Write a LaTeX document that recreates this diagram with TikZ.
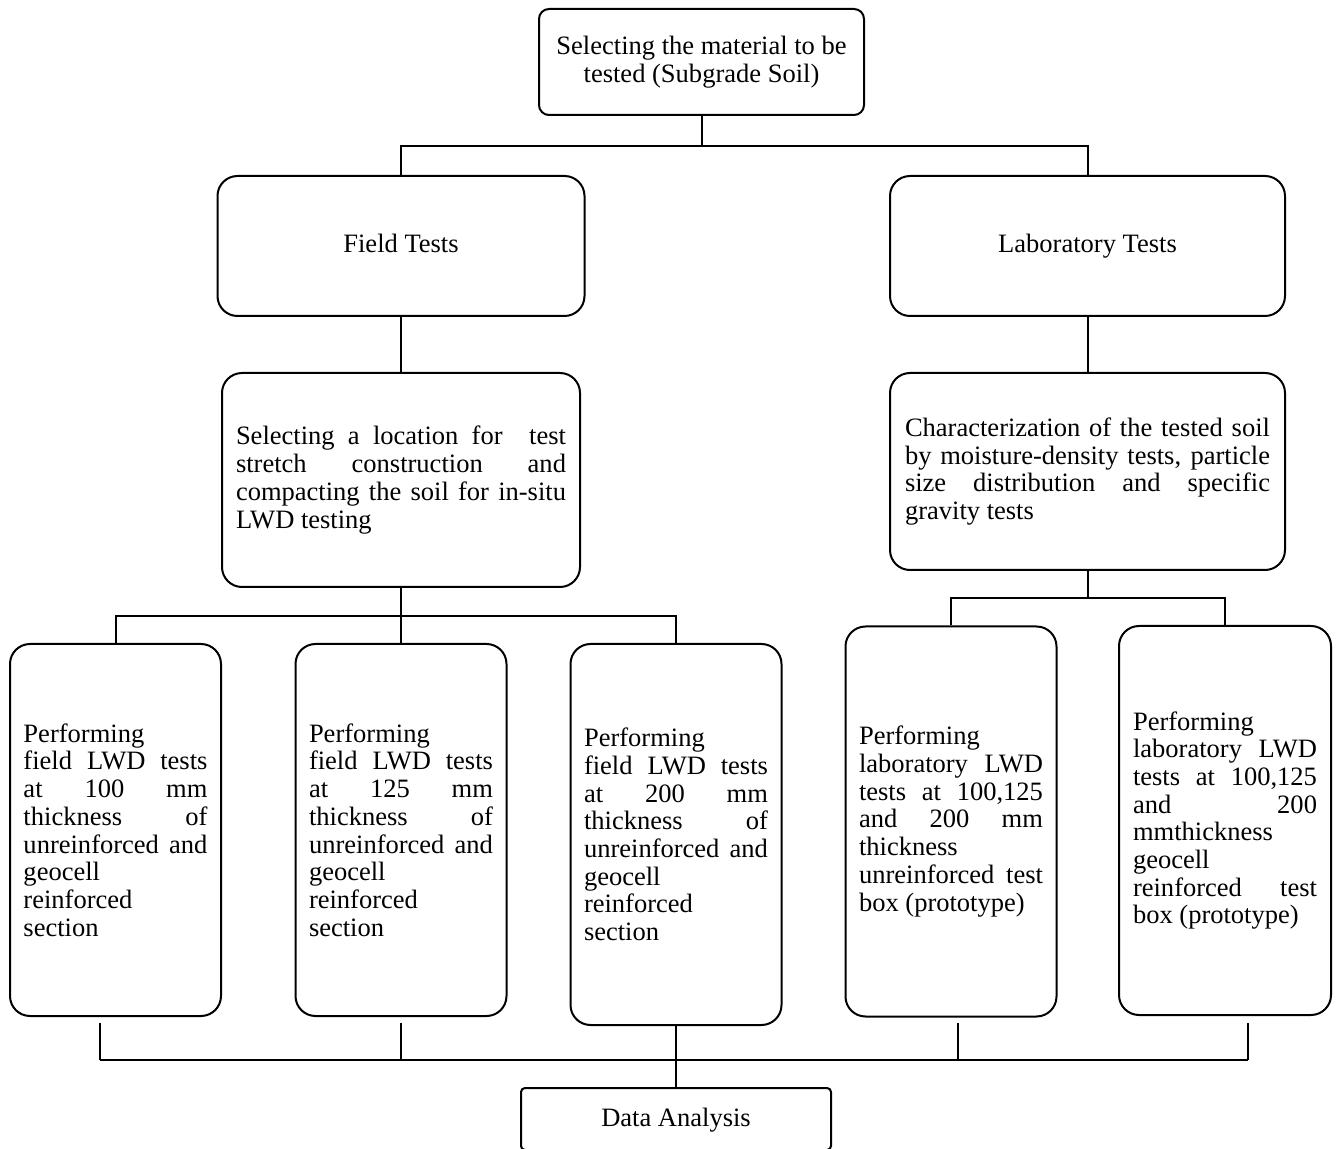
\documentclass[tikz,border=0pt]{standalone}
\usepackage{fontspec}
\setmainfont{Liberation Serif}
\usepackage{tikz}
\usetikzlibrary{calc}

\tikzset{
  stagebox/.style={draw=black, line width=1pt, rounded corners=10pt, inner sep=0pt,
    font=\fontsize{13.26pt}{13.85pt}\selectfont},
  labelbox/.style={stagebox, align=center, text height=9pt, text depth=2pt},
  testbox/.style={stagebox, align=justify, text width=92pt, minimum width=105.5pt},
}

\begin{document}
\begin{tikzpicture}[x=0.5pt, y=-0.5pt, line width=1pt]
    \useasboundingbox (0,0) rectangle (1339,1149);

    \node[stagebox, rounded corners=5pt, align=center, minimum width=162.5pt, minimum height=53pt] (material) at (701.5,62) {Selecting the material to be\\tested (Subgrade Soil)};

    \node[labelbox, minimum width=183.5pt, minimum height=70pt] (field) at (401,246) {Field Tests};

    \node[labelbox, minimum width=197.5pt, minimum height=70pt] (lab) at (1087.5,246) {Laboratory Tests};

    \node[stagebox, align=justify, text width=165pt, minimum width=179pt, minimum height=107pt] (location) at (401,480) {Selecting a location for\ \ test\linebreak stretch construction and\linebreak compacting the soil for in-situ\linebreak LWD testing};

    \node[stagebox, align=justify, text width=182.5pt, minimum width=197.5pt, minimum height=98.5pt] (charact) at (1087.5,471.5) {Characterization of the tested soil\linebreak by moisture-density tests, particle\linebreak size distribution and specific\linebreak gravity tests};

    \node[testbox, minimum height=186pt] (field100) at (115.5,830) {Performing\newline field LWD tests\linebreak at 100 mm\linebreak thickness of\linebreak unreinforced and\linebreak geocell\newline reinforced\newline section};

    \node[testbox, minimum height=186pt] (field125) at (401,830) {Performing\newline field LWD tests\linebreak at 125 mm\linebreak thickness of\linebreak unreinforced and\linebreak geocell\newline reinforced\newline section};

    \node[testbox, minimum height=190.5pt] (field200) at (676,834.5) {Performing\newline field LWD tests\linebreak at 200 mm\linebreak thickness of\linebreak unreinforced and\linebreak geocell\newline reinforced\newline section};

    \node[testbox, minimum height=195pt] (labunrein) at (951,821.5) {Performing\newline laboratory LWD\linebreak tests at 100,125\linebreak and 200 mm\linebreak thickness\newline unreinforced test\linebreak box (prototype)};

    \node[testbox, minimum width=106pt, minimum height=194.5pt] (labgeocell) at (1225,820.5) {Performing\newline laboratory LWD\linebreak tests at 100,125\linebreak and 200\linebreak mmthickness\newline geocell\newline reinforced test\linebreak box (prototype)};

    \node[labelbox, rounded corners=2pt, minimum width=155pt, minimum height=31pt] (analysis) at (676,1119) {Data Analysis};

    % junctions
    \coordinate (topsplit) at (701.5,146);
    \coordinate (fieldsplit) at (401,616);
    \coordinate (labsplit) at (1087.5,598);
    \coordinate (busL) at (100,1060);
    \coordinate (busR) at (1248,1060);

    \draw (material.south) -- (topsplit);
    \draw (field.north) |- (topsplit) -| (lab.north);

    \draw (field.south) -- (location.north);
    \draw (lab.south) -- (charact.north);

    \draw (location.south) -- (fieldsplit);
    \draw (field100.north) |- (fieldsplit) -| (field200.north);
    \draw (fieldsplit) -- (field125.north);

    \draw (charact.south) -- (labsplit);
    \draw (labunrein.north) |- (labsplit) -| (labgeocell.north);

    % collecting bus
    \draw (busL) -- (busR);
    \draw ([shift={(-15.5,6)}]field100.south) -- (busL);
    \draw ([shift={(0,6)}]field125.south) coordinate (t125) -- (t125 |- busL);
    \draw ([shift={(7,5)}]labunrein.south) coordinate (tunrein) -- (tunrein |- busL);
    \draw ([shift={(23,7)}]labgeocell.south) -- (busR);
    \draw (field200.south) -- (analysis.north);

\end{tikzpicture}
\end{document}
